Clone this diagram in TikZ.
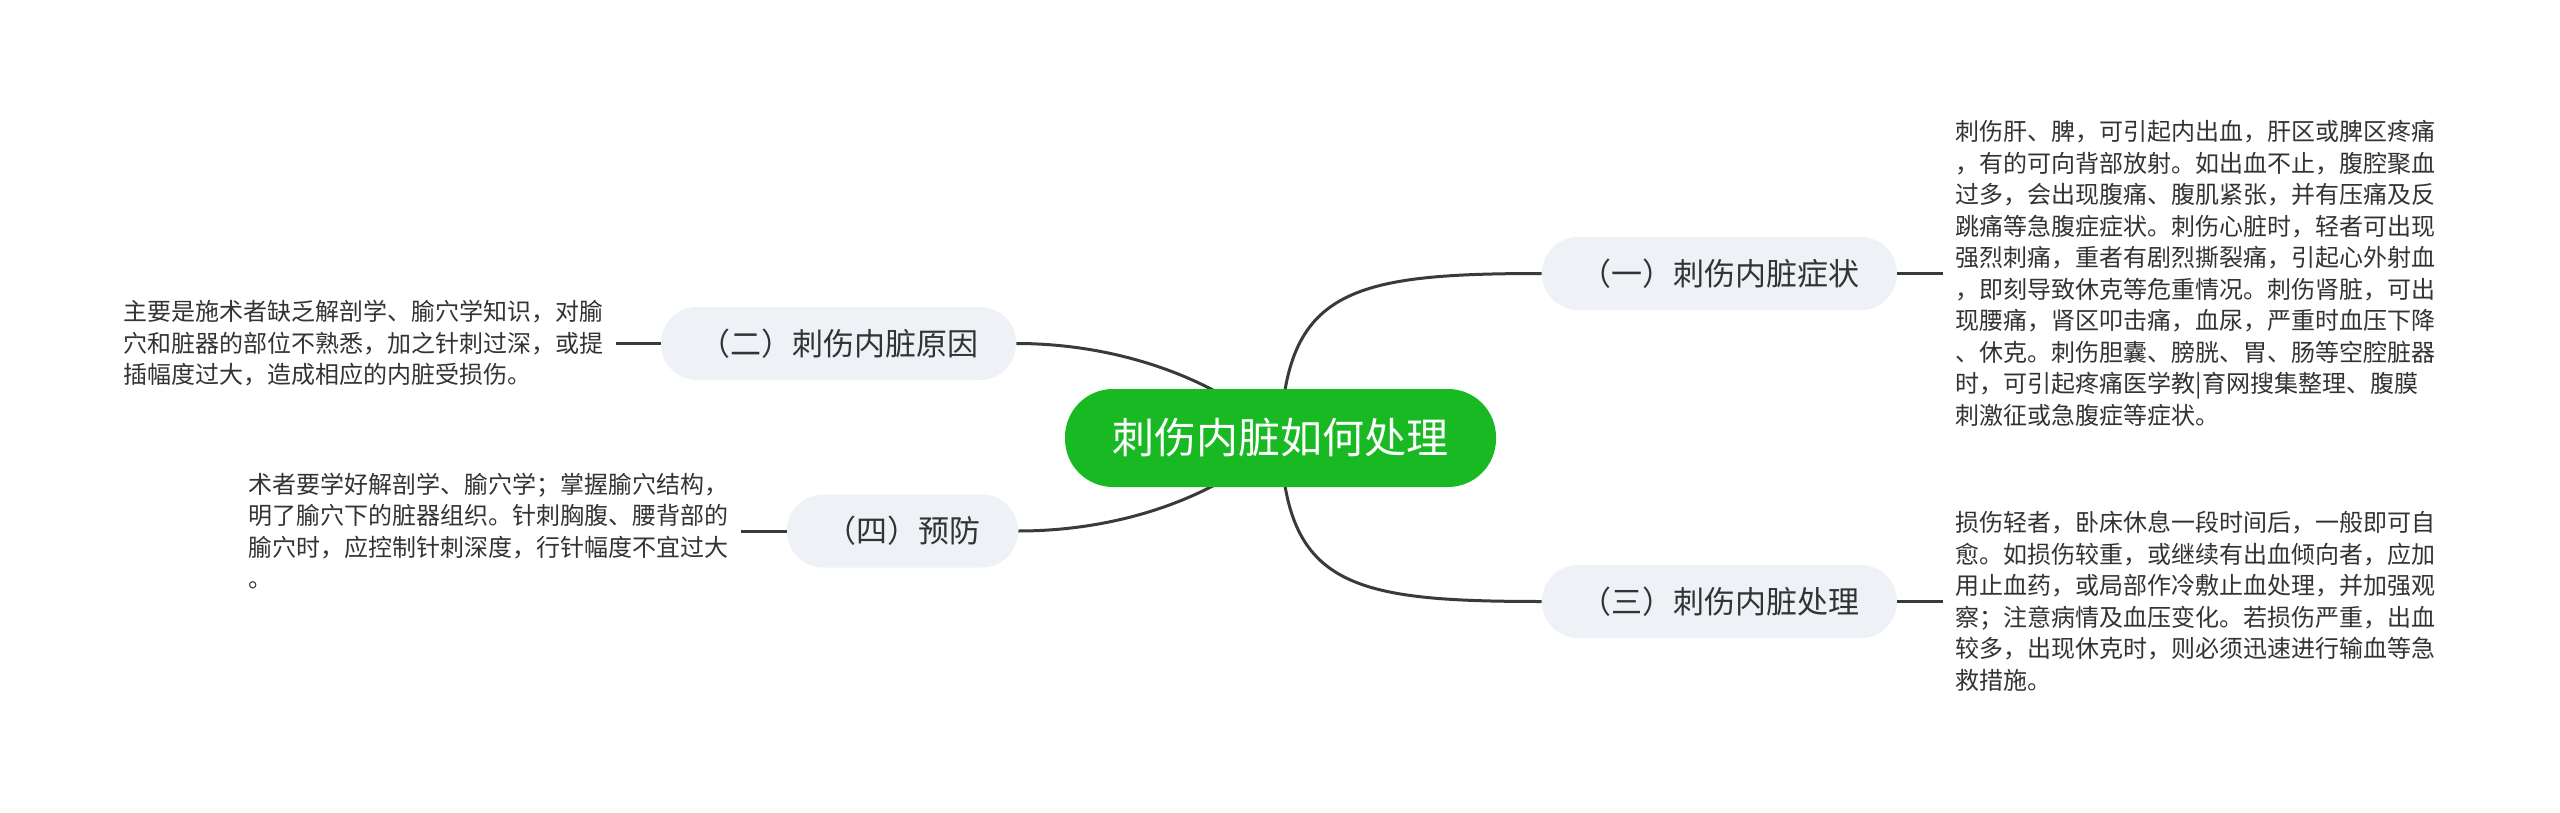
\documentclass[tikz,border=0pt]{standalone}
\usepackage{fontspec}
\setmainfont{Noto Sans CJK SC}
\usetikzlibrary{positioning,backgrounds}

\definecolor{rootgreen}{RGB}{25,185,35}
\definecolor{pillgray}{RGB}{238,241,245}
\definecolor{inkgray}{RGB}{51,51,51}
\definecolor{linegray}{RGB}{58,58,58}

\begin{document}
\begin{tikzpicture}[x=0.5pt, y=-0.5pt,
		root/.style={fill=rootgreen, text=white, rounded corners=24pt, minimum height=49pt, inner xsep=23.75pt, font=\fontsize{21pt}{25pt}\selectfont},
		topic/.style={fill=pillgray, text=inkgray, rounded corners=18pt, minimum height=36.5pt, inner xsep=19pt, font=\fontsize{15.5pt}{19pt}\selectfont},
		detail/.style={text=inkgray, align=left, inner xsep=6pt, inner ysep=0pt, font=\fontsize{12pt}{15.75pt}\selectfont},
		link/.style={draw=linegray, line width=1.5pt}]
		
		% Fix the canvas size
		\useasboundingbox (0,0) rectangle (2560,813);
		
		% Central topic
		\node[root] (root) at (1280.5,438) {刺伤内脏如何处理};
		
		% Main branches
		\node[topic] (symptom) at (1719.5,273.5) {（一）刺伤内脏症状};
		\node[topic] (treat) at (1719.5,601.5) {（三）刺伤内脏处理};
		\node[topic] (cause) at (838.5,343.5) {（二）刺伤内脏原因};
		\node[topic] (prevent) at (902.5,531) {（四）预防};
		
		% Notes beside each branch
		\node[detail, right=23pt of symptom] (symptomtxt) {刺伤肝、脾，可引起内出血，肝区或脾区疼痛\\，有的可向背部放射。如出血不止，腹腔聚血\\过多，会出现腹痛、腹肌紧张，并有压痛及反\\跳痛等急腹症症状。刺伤心脏时，轻者可出现\\强烈刺痛，重者有剧烈撕裂痛，引起心外射血\\，即刻导致休克等危重情况。刺伤肾脏，可出\\现腰痛，肾区叩击痛，血尿，严重时血压下降\\、休克。刺伤胆囊、膀胱、胃、肠等空腔脏器\\时，可引起疼痛医学教|育网搜集整理、腹膜\\刺激征或急腹症等症状。};
		\node[detail, right=23pt of treat] (treattxt) {损伤轻者，卧床休息一段时间后，一般即可自\\愈。如损伤较重，或继续有出血倾向者，应加\\用止血药，或局部作冷敷止血处理，并加强观\\察；注意病情及血压变化。若损伤严重，出血\\较多，出现休克时，则必须迅速进行输血等急\\救措施。};
		\node[detail, left=22.5pt of cause] (causetxt) {主要是施术者缺乏解剖学、腧穴学知识，对腧\\穴和脏器的部位不熟悉，加之针刺过深，或提\\插幅度过大，造成相应的内脏受损伤。};
		\node[detail, left=23pt of prevent] (preventtxt) {术者要学好解剖学、腧穴学；掌握腧穴结构，\\明了腧穴下的脏器组织。针刺胸腹、腰背部的\\腧穴时，应控制针刺深度，行针幅度不宜过大\\。};
		
		% Curved links behind the nodes
		\begin{pgfonlayer}{background}
			\draw[link] (root.center) .. controls +(5,-148) and +(-192,0) .. (symptom.west);
			\draw[link] (root.center) .. controls +(5,148) and +(-192,0) .. (treat.west);
			\draw[link] (root.center) .. controls +(-60,-58) and +(104,0) .. (cause.east);
			\draw[link] (root.center) .. controls +(-60,58) and +(104,0) .. (prevent.east);
		\end{pgfonlayer}
		
		% Short ties to the notes
		\foreach \a/\b in {symptom/symptomtxt, treat/treattxt}
		\draw[link] (\a.east) -- (\b.west);
		\foreach \a/\b in {cause/causetxt, prevent/preventtxt}
		\draw[link] (\a.west) -- (\b.east);
		
	\end{tikzpicture}
\end{document}
